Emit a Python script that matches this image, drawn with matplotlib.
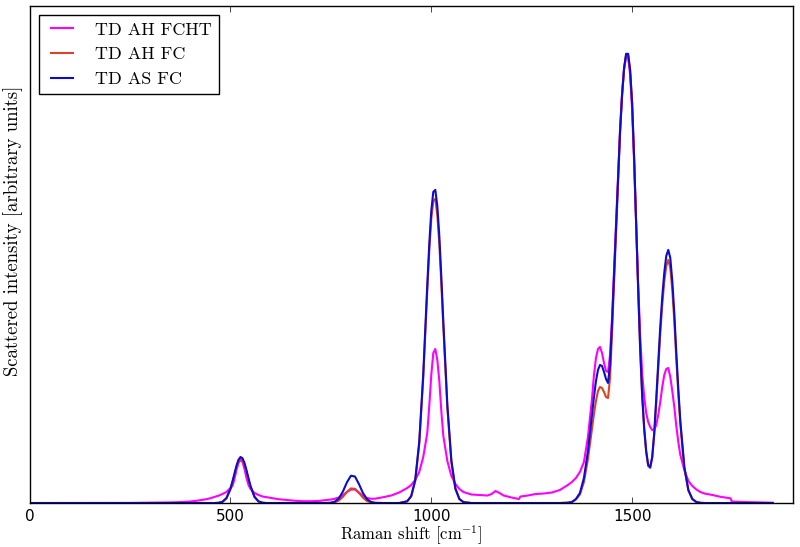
import matplotlib
matplotlib.use("Agg")
import matplotlib.pyplot as plt

# Raman shift sample points (cm^-1)
shift = [
    0, 100, 200, 250, 300, 350, 380, 400, 420, 440,
    450, 460, 470, 480, 490, 500, 505, 510, 515, 520,
    525, 530, 535, 540, 545, 550, 560, 570, 580, 590,
    600, 620, 640, 660, 680, 700, 720, 740, 750, 760,
    770, 780, 790, 800, 810, 820, 830, 840, 850, 860,
    880, 900, 920, 940, 950, 960, 970, 980, 990, 995,
    1000, 1005, 1010, 1015, 1020, 1025, 1030, 1040, 1050, 1060,
    1070, 1080, 1100, 1120, 1140, 1150, 1160, 1170, 1180, 1200,
    1218, 1222, 1240, 1260, 1280, 1300, 1320, 1340, 1350, 1360,
    1370, 1380, 1390, 1400, 1405, 1410, 1415, 1420, 1425, 1430,
    1435, 1440, 1445, 1450, 1455, 1460, 1465, 1470, 1475, 1480,
    1485, 1490, 1495, 1500, 1505, 1510, 1515, 1520, 1525, 1530,
    1535, 1540, 1545, 1550, 1555, 1560, 1565, 1570, 1575, 1580,
    1585, 1590, 1595, 1600, 1605, 1610, 1615, 1620, 1630, 1640,
    1650, 1660, 1670, 1680, 1700, 1720, 1745, 1748, 1780, 1800,
    1850,
]

td_ah_fcht = [
    0, 0, 0, 0.1, 0.3, 0.6, 1.0, 1.5, 2.5, 3.8,
    4.8, 6.0, 7.3, 9.0, 11.0, 15.0, 17.0, 24.0, 33.0, 40.0,
    43.0, 41.0, 34.0, 25.0, 18.0, 14.0, 10.0, 8.0, 6.5, 5.8,
    5.0, 3.8, 3.0, 2.3, 1.8, 1.8, 2.1, 3.0, 3.5, 4.3,
    5.5, 8.0, 11.0, 13.5, 13.5, 10.5, 7.0, 5.0, 4.3, 4.3,
    5.8, 7.5, 10.5, 15.0, 18.0, 23.0, 31.0, 46.0, 70.0, 97.0,
    128.0, 150.0, 154.0, 143.0, 122.0, 92.0, 67.0, 42.0, 27.0, 19.0,
    14.0, 11.0, 8.5, 8.0, 7.5, 9.0, 12.0, 10.0, 7.5, 5.5,
    4.0, 6.5, 7.5, 9.0, 9.5, 10.5, 13.0, 18.0, 21.0, 25.0,
    31.0, 41.0, 66.0, 104.0, 128.0, 145.0, 154.0, 156.0, 150.0, 140.0,
    132.0, 131.0, 148.0, 185.0, 232.0, 280.0, 328.0, 374.0, 410.0, 434.0,
    446.0, 446.0, 428.0, 393.0, 340.0, 278.0, 218.0, 168.0, 130.0, 106.0,
    90.0, 81.0, 76.0, 73.0, 73.0, 78.0, 88.0, 101.0, 116.0, 128.0,
    134.0, 135.0, 126.0, 112.0, 96.0, 77.0, 61.0, 48.0, 33.0, 22.0,
    17.0, 13.5, 11.0, 9.5, 8.0, 6.2, 4.7, 1.5, 1.0, 0.8,
    0.3,
]

td_ah_fc = [
    0, 0, 0, 0, 0, 0, 0, 0, 0, 0,
    0, 0, 0.2, 1.1, 4.7, 13.7, 20.6, 28.2, 35.7, 41.3,
    44.0, 42.9, 38.3, 31.4, 23.5, 16.3, 5.9, 1.5, 0.3, 0,
    0, 0, 0, 0, 0, 0, 0, 0, 0.2, 0.75,
    2.5, 6.2, 11.1, 14.6, 14.2, 10.1, 5.3, 2.0, 0.6, 0.1,
    0, 0, 0, 1.7, 6.7, 22.0, 59.0, 125.0, 212.0, 252.0,
    284.0, 302.0, 304.0, 288.0, 259.0, 219.0, 176.0, 95.0, 41.0, 14.0,
    3.9, 0.9, 0, 0, 0, 0, 0, 0, 0, 0,
    0, 0, 0, 0, 0, 0, 0, 0.3, 0.9, 3.5,
    8.5, 21.0, 44.0, 74.0, 89.0, 102.0, 112.0, 116.0, 115.0, 111.0,
    106.0, 105.0, 125.0, 170.0, 220.0, 270.0, 322.0, 370.0, 407.0, 434.0,
    448.0, 448.0, 432.0, 399.0, 344.0, 279.0, 214.0, 154.0, 107.0, 74.0,
    51.0, 37.0, 35.0, 45.0, 68.0, 100.0, 135.0, 169.0, 198.0, 221.0,
    237.0, 243.0, 235.0, 213.0, 182.0, 144.0, 109.0, 79.0, 35.0, 12.5,
    3.8, 1.0, 0.2, 0, 0, 0, 0, 0, 0, 0,
    0,
]

td_as_fc = [
    0, 0, 0, 0, 0, 0, 0, 0, 0, 0,
    0, 0, 0.2, 1.2, 4.9, 14.3, 21.5, 29.5, 37.3, 43.2,
    46.0, 44.8, 40.0, 32.8, 24.6, 17.0, 6.2, 1.6, 0.3, 0,
    0, 0, 0, 0, 0, 0, 0, 0.05, 0.3, 1.4,
    4.7, 11.5, 20.7, 27.3, 26.5, 18.9, 9.9, 3.8, 1.1, 0.2,
    0, 0, 0, 1.7, 6.9, 23.0, 61.0, 129.0, 218.0, 259.0,
    292.0, 311.0, 313.0, 297.0, 267.0, 226.0, 181.0, 98.0, 42.5, 14.6,
    4.0, 0.9, 0, 0, 0, 0, 0, 0, 0, 0,
    0, 0, 0, 0, 0, 0, 0, 0.3, 1.0, 4.0,
    10.0, 25.0, 52.0, 88.0, 106.0, 122.0, 133.0, 138.0, 137.0, 131.0,
    124.0, 120.0, 138.0, 180.0, 228.0, 275.0, 325.0, 372.0, 408.0, 435.0,
    449.0, 449.0, 433.0, 400.0, 345.0, 280.0, 215.0, 155.0, 108.0, 75.0,
    52.0, 38.0, 36.0, 46.0, 70.0, 104.0, 140.0, 176.0, 206.0, 230.0,
    247.0, 253.0, 245.0, 222.0, 190.0, 150.0, 114.0, 82.0, 36.0, 13.0,
    4.0, 1.0, 0.2, 0, 0, 0, 0, 0, 0, 0,
    0,
]

xticks = [0, 500, 1000, 1500]

plt.style.use("classic")
plt.rcParams["mathtext.fontset"] = "cm"
plt.rcParams["axes.formatter.use_mathtext"] = True

fig = plt.figure(figsize=(8, 5.47), dpi=100, facecolor="white")
ax = fig.add_axes([0.037, 0.0804, 0.954, 0.909])
ax.set_facecolor("white")

ax.plot(shift, td_ah_fcht, color="#ff00ff", lw=1.5, label="TD AH FCHT")
ax.plot(shift, td_ah_fc, color="#dc4228", lw=1.5, label="TD AH FC")
ax.plot(shift, td_as_fc, color="#0c0cd0", lw=1.5, label="TD AS FC")

ax.set_xlim(0, 1900)
ax.set_ylim(0, 497)
ax.set_xticks(xticks)
ax.set_xticklabels([str(t) for t in xticks], family="DejaVu Sans", fontsize=11)
ax.set_yticks([])
ax.tick_params(axis="x", direction="in", top=True, length=4, pad=4)

ax.set_xlabel("Raman shift [cm$^{-1}$]", family="cmr10", fontsize=12, labelpad=0)
ax.set_ylabel("Scattered intensity [arbitrary units]", family="cmr10", fontsize=13.5)
ax.yaxis.set_label_coords(-0.008, 0.547)

leg = ax.legend(loc="upper left", prop={"family": "cmr10", "size": 13},
                handlelength=1.8, handletextpad=0.9, labelspacing=0.5,
                fancybox=False, borderaxespad=0.5, borderpad=0.4)
leg.get_frame().set_linewidth(1.0)

fig.savefig("out.png", dpi=100, facecolor="white")
